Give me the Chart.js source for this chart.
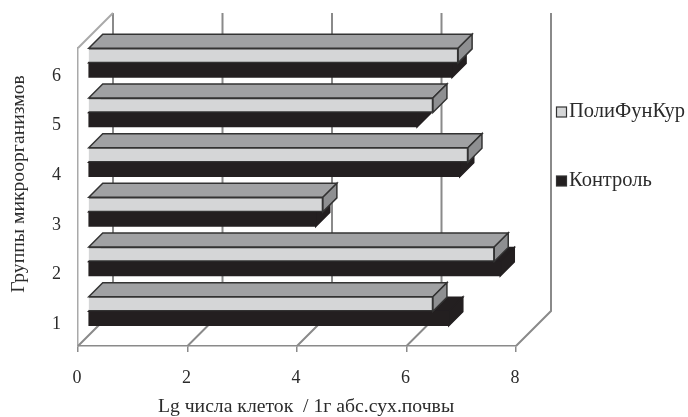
<!DOCTYPE html>
<html>
<head>
<meta charset="utf-8">
<style>
    body { margin: 0; background: #fff; }
    canvas { display: block; }
</style>
<script src="https://cdn.jsdelivr.net/npm/chart.js@4"></script>
</head>
<body>
<canvas id="cellsChart" width="688" height="417"></canvas>
<script>
// Groups run top to bottom so the first series sits above the second one
const groups = ['6', '5', '4', '3', '2', '1'];
const polyValues = [6.76, 6.3, 6.94, 4.29, 7.42, 6.3];
const controlValues = [6.65, 6.01, 6.79, 4.16, 7.53, 6.59];
const seriesNames = ['ПолиФунКур', 'Контроль'];
const xTicks = [0, 2, 4, 6, 8];
const xTitle = 'Lg числа клеток  / 1г абс.сух.почвы';
const yTitle = 'Группы микроорганизмов';

const fontName = '"Liberation Serif", serif';
const textColor = '#2b2b2b';
const wallDepth = 35;   // how far the back wall sits from the axes
const barShift = 10;    // bars stand this far in from the front edge
const barDepth = 14;    // depth of one bar
const lineColor = '#8a8a8a';

const faceColors = ['#d5d6d7', '#231f20'];
const topColors = ['#a0a1a3', '#231f20'];
const sideColors = ['#8e8f91', '#231f20'];
const edgeColors = ['#333', '#231f20'];

function fillPoly(ctx, points, color, edge) {
    ctx.beginPath();
    points.forEach((p, i) => i ? ctx.lineTo(p[0], p[1]) : ctx.moveTo(p[0], p[1]));
    ctx.closePath();
    ctx.fillStyle = color;
    ctx.fill();
    ctx.strokeStyle = edge;
    ctx.lineWidth = 1.5;
    ctx.stroke();
}

// Back wall, side edges and floor lines of the box
const wallPlugin = {
    id: 'wall',
    beforeDatasetsDraw(chart) {
        const { ctx, chartArea, scales } = chart;
        const d = wallDepth;
        ctx.save();
        ctx.strokeStyle = lineColor;
        ctx.lineWidth = 2;
        xTicks.forEach((t) => {
            const x = scales.x.getPixelForValue(t);
            ctx.beginPath();
            ctx.moveTo(x + d, chartArea.top - d);
            ctx.lineTo(x + d, chartArea.bottom - d);
            ctx.lineTo(x, chartArea.bottom);
            ctx.stroke();
        });
        ctx.strokeStyle = '#a9a9a9';
        ctx.beginPath();
        ctx.moveTo(chartArea.left, chartArea.top);
        ctx.lineTo(chartArea.left + d, chartArea.top - d);
        ctx.stroke();
        ctx.restore();
    }
};

// Pushes each bar into the box and adds its top and side faces
const depthPlugin = {
    id: 'depth',
    beforeDatasetDraw(chart, args) {
        const ctx = chart.ctx;
        const d = barDepth;
        const edge = edgeColors[args.index];
        ctx.save();
        ctx.translate(barShift, -barShift);
        args.meta.data.forEach((bar) => {
            const p = bar.getProps(['x', 'y', 'base', 'height'], true);
            const top = p.y - p.height / 2;
            const bottom = p.y + p.height / 2;
            fillPoly(ctx, [[p.base, top], [p.base + d, top - d], [p.x + d, top - d], [p.x, top]], topColors[args.index], edge);
            fillPoly(ctx, [[p.x, top], [p.x + d, top - d], [p.x + d, bottom - d], [p.x, bottom]], sideColors[args.index], edge);
        });
    },
    afterDatasetDraw(chart) {
        chart.ctx.restore();
    }
};

// Legend and axis titles placed by hand, the legend spacing is wider than the built-in one
const labelsPlugin = {
    id: 'labels',
    afterDraw(chart) {
        const ctx = chart.ctx;
        ctx.save();
        ctx.fillStyle = textColor;
        ctx.textBaseline = 'middle';
        ctx.font = '19.7px ' + fontName;
        ctx.textAlign = 'center';
        ctx.fillText(xTitle, 306, 407);
        ctx.save();
        ctx.translate(19, 184);
        ctx.rotate(-Math.PI / 2);
        ctx.fillText(yTitle, 0, 0);
        ctx.restore();

        ctx.textAlign = 'left';
        ctx.font = '20.5px ' + fontName;
        [112, 181].forEach((y, i) => {
            ctx.fillStyle = faceColors[i];
            ctx.fillRect(556.5, y - 5, 10, 10);
            ctx.strokeStyle = '#333';
            ctx.lineWidth = 1.2;
            ctx.strokeRect(556.5, y - 5, 10, 10);
            ctx.fillStyle = textColor;
            ctx.fillText(seriesNames[i], 569, y);
        });
        ctx.restore();
    }
};

new Chart(document.getElementById('cellsChart').getContext('2d'), {
    type: 'bar',
    data: {
        labels: groups,
        datasets: [{
            label: seriesNames[0],
            data: polyValues,
            backgroundColor: faceColors[0],
            borderColor: '#333',
            borderWidth: 1.5
        }, {
            label: seriesNames[1],
            data: controlValues,
            backgroundColor: faceColors[1],
            borderColor: faceColors[1],
            borderWidth: 0
        }]
    },
    options: {
        indexAxis: 'y',
        responsive: false,
        animation: false,
        barThickness: 14.5,
        layout: { padding: { top: 48, right: 172 } },
        plugins: { legend: { display: false }, tooltip: { enabled: false } },
        scales: {
            x: {
                min: 0,
                max: 8,
                afterFit(scale) { scale.height = 71; },
                afterBuildTicks(scale) { scale.ticks = xTicks.map(v => ({ value: v })); },
                grid: { drawOnChartArea: false, tickLength: 6, color: lineColor, lineWidth: 1.5 },
                border: { color: lineColor, width: 1.5 },
                ticks: { color: textColor, padding: 15, labelOffset: -1, maxRotation: 0, font: { family: fontName, size: 18 } }
            },
            y: {
                afterFit(scale) { scale.width = 78; },
                grid: { display: false },
                border: { color: '#a9a9a9', width: 1.5 },
                ticks: { color: textColor, padding: 9, labelOffset: 3, font: { family: fontName, size: 18 } }
            }
        }
    },
    plugins: [wallPlugin, depthPlugin, labelsPlugin]
});
</script>
</body>
</html>
